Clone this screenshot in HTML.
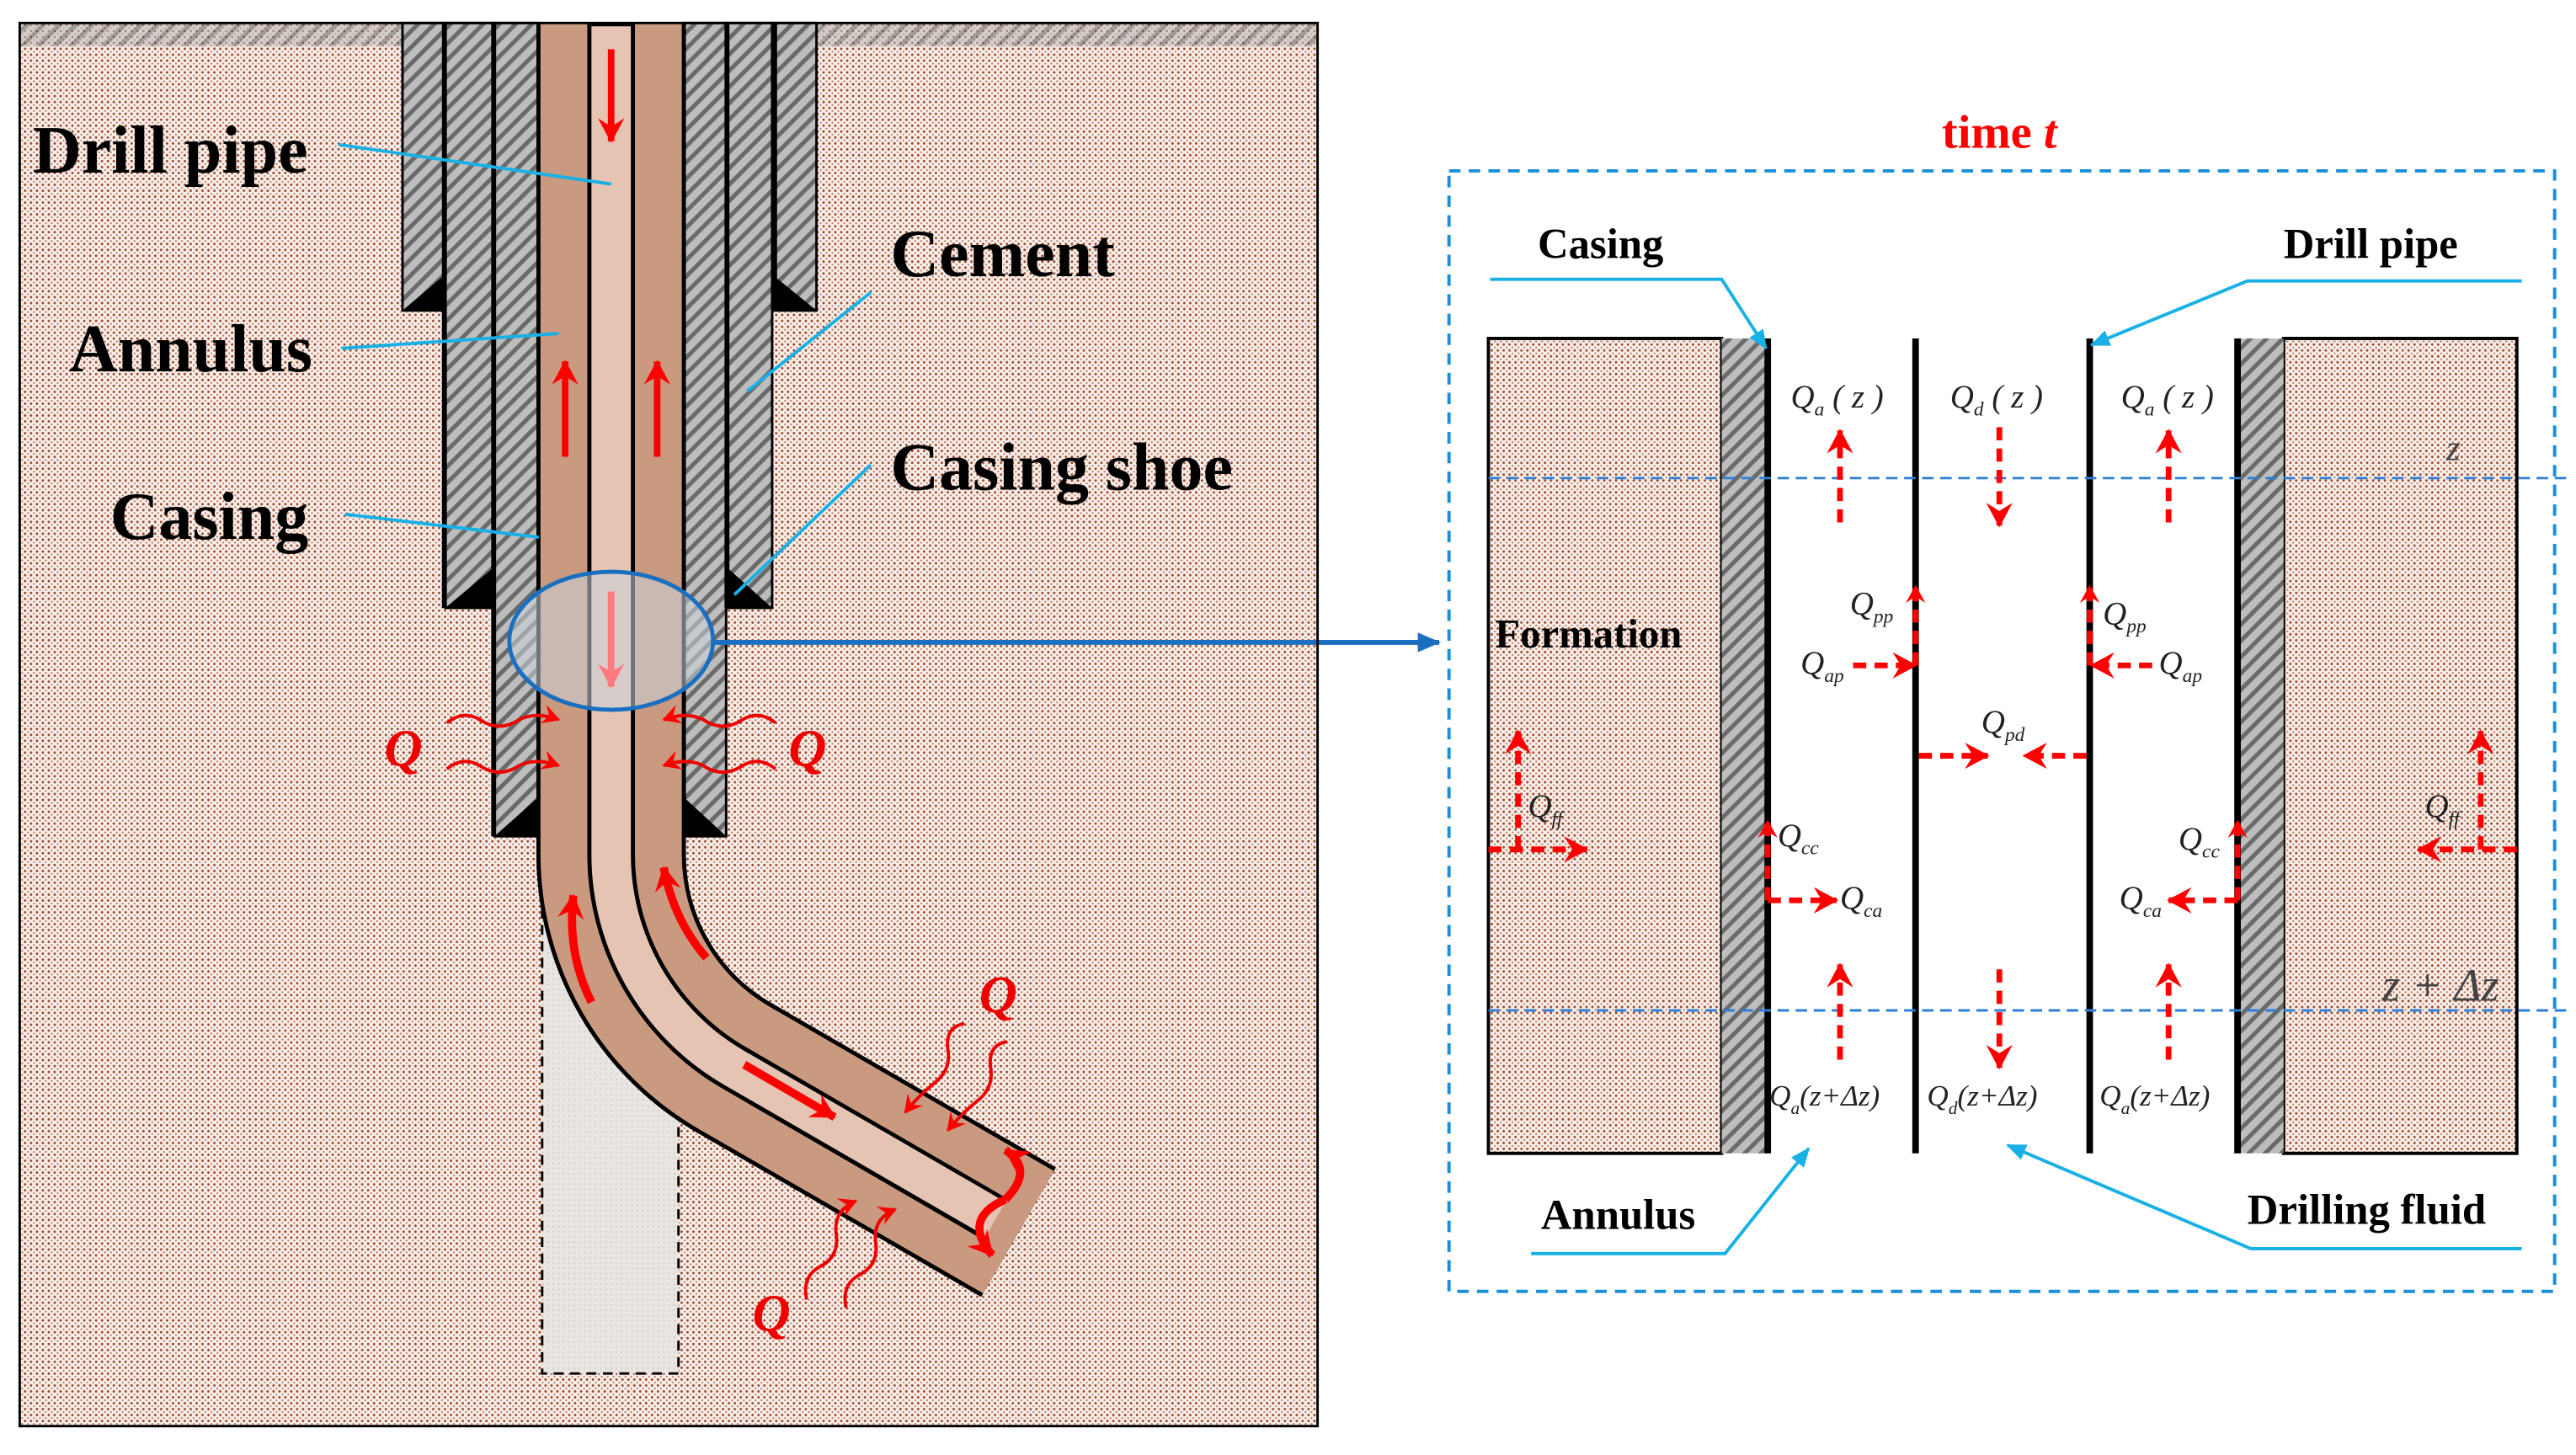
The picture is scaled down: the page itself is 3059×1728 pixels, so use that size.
<!DOCTYPE html>
<html><head><meta charset="utf-8"><style>
html,body{margin:0;padding:0;background:#fff;}
svg{display:block;}
.lbl{font-family:"Liberation Serif",serif;font-weight:bold;fill:#000;}
.q{font-family:"Liberation Serif",serif;font-style:italic;fill:#222;}
</style></head><body>
<svg width="3059" height="1728" viewBox="0 0 1568 885.6" preserveAspectRatio="none" xmlns="http://www.w3.org/2000/svg">
<defs>
<pattern id="dots" width="3.6" height="3.6" patternUnits="userSpaceOnUse">
<rect width="3.6" height="3.6" fill="#f9efea"/>
<circle cx="0.9" cy="0.9" r="0.75" fill="#9a4a2c"/>
<circle cx="2.7" cy="2.7" r="0.6" fill="#c08470"/>
</pattern>
<pattern id="dotsg" width="3.2" height="3.2" patternUnits="userSpaceOnUse">
<rect width="3.2" height="3.2" fill="#e8e5e3"/>
<circle cx="0.8" cy="0.8" r="0.5" fill="#d0c6c0"/>
</pattern>
<pattern id="hatch" width="7" height="7" patternUnits="userSpaceOnUse" patternTransform="rotate(45)">
<rect width="7" height="7" fill="#bdbdbd"/>
<rect width="2.6" height="7" fill="#6a6a6a"/>
</pattern>
<marker id="ar" markerWidth="12" markerHeight="12" refX="10" refY="6" orient="auto" markerUnits="userSpaceOnUse">
<path d="M0,0 L11,6 L0,12 L4,6 Z" fill="#f00"/></marker>
<marker id="ars" markerWidth="16" markerHeight="16" refX="14" refY="8" orient="auto" markerUnits="userSpaceOnUse">
<path d="M0,0 L15,8 L0,16 L5,8 Z" fill="#f00"/></marker>
<marker id="arb" markerWidth="14" markerHeight="12" refX="13" refY="6" orient="auto" markerUnits="userSpaceOnUse">
<path d="M0,0 L14,6 L0,12 Z" fill="#1a6fc0"/></marker>
<marker id="arc" markerWidth="12" markerHeight="10" refX="11" refY="5" orient="auto" markerUnits="userSpaceOnUse">
<path d="M0,0 L12,5 L0,10 Z" fill="#19b0e6"/></marker>
<marker id="arp" markerWidth="16" markerHeight="16" refX="14" refY="8" orient="auto" markerUnits="userSpaceOnUse">
<path d="M0,0 L15,8 L0,16 L5,8 Z" fill="#ff7a80"/></marker>
</defs>

<!-- LEFT PANEL -->
<rect x="12" y="14" width="790" height="854" fill="url(#dots)"/>
<rect x="12" y="14" width="233" height="14" fill="url(#hatch)" opacity="0.6"/>
<rect x="497" y="14" width="305" height="14" fill="url(#hatch)" opacity="0.6"/>
<rect x="330" y="509" width="83" height="327" fill="url(#dotsg)" stroke="#000" stroke-width="1.5" stroke-dasharray="6,4"/>

<g stroke="#000" stroke-width="1.5">
<rect x="245" y="14" width="26" height="175" fill="url(#hatch)"/>
<rect x="271" y="14" width="30" height="356" fill="url(#hatch)"/>
<rect x="301" y="14" width="27" height="495" fill="url(#hatch)"/>
<rect x="416" y="14" width="26" height="495" fill="url(#hatch)"/>
<rect x="442" y="14" width="28" height="356" fill="url(#hatch)"/>
<rect x="470" y="14" width="27" height="175" fill="url(#hatch)"/>
</g>
<g fill="#000">
<path d="M245,189 L271,189 L271,167 Z"/>
<path d="M271,370 L301,370 L301,345 Z"/>
<path d="M301,509 L328,509 L328,485 Z"/>
<path d="M416,509 L442,509 L416,485 Z"/>
<path d="M442,370 L470,370 L442,345 Z"/>
<path d="M470,189 L497,189 L470,167 Z"/>
</g>
<rect x="269" y="14" width="3" height="356" fill="#000"/>
<rect x="441" y="14" width="3" height="356" fill="#000"/>
<rect x="299" y="14" width="3" height="495" fill="#000"/>
<rect x="470" y="14" width="3" height="175" fill="#000"/>

<path d="M372,14 L372,520 A150,150 0 0 0 447,650 L620,750" fill="none" stroke="#000" stroke-width="91"/>
<path d="M372,14 L372,520 A150,150 0 0 0 447,650 L620,750" fill="none" stroke="#c99a80" stroke-width="86"/>
<path d="M372,14 L372,520 A150,150 0 0 0 447,650 L604,741" fill="none" stroke="#000" stroke-width="29"/>
<path d="M372,16 L372,520 A150,150 0 0 0 447,650 L606,742" fill="none" stroke="#e6c4b4" stroke-width="24"/>

<ellipse cx="372" cy="390" rx="62" ry="42" fill="#c8d3db" fill-opacity="0.55" stroke="#1a6fc0" stroke-width="2.5"/>
<line x1="435" y1="391" x2="876" y2="391" stroke="#1a6fc0" stroke-width="3" marker-end="url(#arb)"/>

<g stroke="#f00" stroke-width="4" fill="none">
<line x1="372" y1="30" x2="372" y2="86" marker-end="url(#ars)"/>
<line x1="344" y1="278" x2="344" y2="220" marker-end="url(#ars)"/>
<line x1="400" y1="278" x2="400" y2="220" marker-end="url(#ars)"/>
<path d="M360,610 Q345,580 349,545" stroke-width="5" marker-end="url(#ars)"/>
<path d="M430,583 Q410,560 404,528" stroke-width="5" marker-end="url(#ars)"/>
<line x1="453" y1="648" x2="508" y2="680" stroke-width="5" marker-end="url(#ars)"/>
<path d="M612,730 Q630,712 612,700" stroke-width="5" marker-end="url(#ars)"/>
<path d="M612,730 Q585,742 604,764" stroke-width="5" marker-end="url(#ars)"/>
</g>
<line x1="372" y1="360" x2="372" y2="418" stroke="#ff7a80" stroke-width="4" marker-end="url(#arp)"/>
<g stroke="#e00" stroke-width="2" fill="none">
<path d="M272,440 q10,-8 20,-2 q12,8 24,0 q10,-5 24,0" marker-end="url(#ar)"/>
<path d="M272,468 q10,-8 20,-2 q12,8 24,0 q10,-5 24,0" marker-end="url(#ar)"/>
<path d="M472,440 q-10,-8 -20,-2 q-12,8 -24,0 q-10,-5 -24,0" marker-end="url(#ar)"/>
<path d="M472,468 q-10,-8 -20,-2 q-12,8 -24,0 q-10,-5 -24,0" marker-end="url(#ar)"/>
<path d="M587,623 q-12,2 -10,16 q2,12 -8,20 q-10,8 -18,18" marker-end="url(#ar)"/>
<path d="M613,634 q-12,2 -10,16 q2,12 -8,20 q-10,8 -18,18" marker-end="url(#ar)"/>
<path d="M491,791 q-3,-14 8,-20 q12,-6 10,-20 q-2,-14 12,-20" marker-end="url(#ar)"/>
<path d="M515,796 q-3,-14 8,-20 q12,-6 10,-20 q-2,-14 12,-20" marker-end="url(#ar)"/>
</g>
<g font-family="Liberation Serif,serif" font-style="italic" font-weight="bold" font-size="32" fill="#e00">
<text x="234" y="466">Q</text><text x="480" y="466">Q</text>
<text x="596" y="616">Q</text><text x="458" y="810">Q</text>
</g>

<g class="lbl" font-size="41">
<text x="20" y="105">Drill pipe</text>
<text x="42" y="226">Annulus</text>
<text x="67" y="328">Casing</text>
<text x="542" y="168">Cement</text>
<text x="542" y="298">Casing shoe</text>
</g>
<g stroke="#19b0e6" stroke-width="2" fill="none">
<line x1="206" y1="88" x2="372" y2="112"/>
<line x1="208" y1="212" x2="340" y2="203"/>
<line x1="210" y1="313" x2="328" y2="327"/>
<line x1="530" y1="178" x2="455" y2="238"/>
<line x1="530" y1="283" x2="447" y2="362"/>
</g>
<rect x="12" y="14" width="790" height="854" fill="none" stroke="#000" stroke-width="1.5"/>

<!-- RIGHT PANEL -->
<text x="1217" y="90" text-anchor="middle" font-family="Liberation Serif,serif" font-weight="bold" font-size="29" fill="#f00">time <tspan font-style="italic">t</tspan></text>
<rect x="882" y="104" width="673" height="682" fill="none" stroke="#1a8fd8" stroke-width="2" stroke-dasharray="7,5"/>

<rect x="906" y="206" width="142" height="496" fill="url(#dots)" stroke="#000" stroke-width="2"/>
<rect x="1048" y="206" width="27" height="496" fill="url(#hatch)"/>
<rect x="1390" y="206" width="142" height="496" fill="url(#dots)" stroke="#000" stroke-width="2"/>
<rect x="1362" y="206" width="28" height="496" fill="url(#hatch)"/>
<g fill="#000">
<rect x="1074" y="206" width="4" height="496"/>
<rect x="1164" y="206" width="4" height="496"/>
<rect x="1270" y="206" width="4" height="496"/>
<rect x="1360" y="206" width="4" height="496"/>
</g>
<g stroke="#2e7fd8" stroke-width="1.5" stroke-dasharray="7,4">
<line x1="906" y1="291" x2="1562" y2="291"/>
<line x1="906" y1="615" x2="1562" y2="615"/>
</g>

<g stroke="#f00" stroke-width="3.5" stroke-dasharray="8,5" fill="none">
<line x1="1120" y1="318" x2="1120" y2="262" marker-end="url(#ars)"/>
<line x1="1320" y1="318" x2="1320" y2="262" marker-end="url(#ars)"/>
<line x1="1217" y1="260" x2="1217" y2="320" marker-end="url(#ars)"/>
<line x1="1120" y1="645" x2="1120" y2="587" marker-end="url(#ars)"/>
<line x1="1320" y1="645" x2="1320" y2="587" marker-end="url(#ars)"/>
<line x1="1217" y1="590" x2="1217" y2="650" marker-end="url(#ars)"/>
<line x1="1166" y1="405" x2="1166" y2="357" marker-end="url(#ar)"/>
<line x1="1128" y1="405" x2="1166" y2="405" marker-end="url(#ars)"/>
<line x1="1272" y1="405" x2="1272" y2="357" marker-end="url(#ar)"/>
<line x1="1310" y1="405" x2="1273" y2="405" marker-end="url(#ars)"/>
<line x1="1168" y1="460" x2="1210" y2="460" marker-end="url(#ars)"/>
<line x1="1270" y1="460" x2="1232" y2="460" marker-end="url(#ars)"/>
<line x1="1076" y1="548" x2="1076" y2="500" marker-end="url(#ar)"/>
<line x1="1076" y1="548" x2="1118" y2="548" marker-end="url(#ars)"/>
<line x1="1362" y1="548" x2="1362" y2="500" marker-end="url(#ar)"/>
<line x1="1362" y1="548" x2="1320" y2="548" marker-end="url(#ars)"/>
<line x1="924" y1="517" x2="924" y2="445" marker-end="url(#ars)"/>
<line x1="906" y1="517" x2="966" y2="517" marker-end="url(#ars)"/>
<line x1="1510" y1="517" x2="1510" y2="445" marker-end="url(#ars)"/>
<line x1="1532" y1="517" x2="1472" y2="517" marker-end="url(#ars)"/>
</g>

<g class="q" font-size="20">
<text x="1090" y="248">Q<tspan font-size="12" dy="5">a</tspan><tspan dy="-5"> ( z )</tspan></text>
<text x="1187" y="248">Q<tspan font-size="12" dy="5">d</tspan><tspan dy="-5"> ( z )</tspan></text>
<text x="1291" y="248">Q<tspan font-size="12" dy="5">a</tspan><tspan dy="-5"> ( z )</tspan></text>
<text x="1126" y="374">Q<tspan font-size="12" dy="5">pp</tspan></text>
<text x="1096" y="410">Q<tspan font-size="12" dy="5">ap</tspan></text>
<text x="1280" y="380">Q<tspan font-size="12" dy="5">pp</tspan></text>
<text x="1314" y="410">Q<tspan font-size="12" dy="5">ap</tspan></text>
<text x="1206" y="446">Q<tspan font-size="12" dy="5">pd</tspan></text>
<text x="1082" y="515">Q<tspan font-size="12" dy="5">cc</tspan></text>
<text x="1120" y="553">Q<tspan font-size="12" dy="5">ca</tspan></text>
<text x="1326" y="517">Q<tspan font-size="12" dy="5">cc</tspan></text>
<text x="1290" y="553">Q<tspan font-size="12" dy="5">ca</tspan></text>
<text x="930" y="497">Q<tspan font-size="12" dy="5">ff</tspan></text>
<text x="1476" y="497">Q<tspan font-size="12" dy="5">ff</tspan></text>
<text x="1077" y="673" font-size="18">Q<tspan font-size="11" dy="5">a</tspan><tspan dy="-5">(z+Δz)</tspan></text>
<text x="1173" y="673" font-size="18">Q<tspan font-size="11" dy="5">d</tspan><tspan dy="-5">(z+Δz)</tspan></text>
<text x="1278" y="673" font-size="18">Q<tspan font-size="11" dy="5">a</tspan><tspan dy="-5">(z+Δz)</tspan></text>
<text x="1489" y="280" font-size="22" fill="#444">z</text>
<text x="1450" y="609" font-size="28" fill="#444">z + Δz</text>
</g>
<text x="910" y="394" class="lbl" font-size="25">Formation</text>

<g class="lbl" font-size="26">
<text x="936" y="157">Casing</text>
<text x="1390" y="157">Drill pipe</text>
<text x="938" y="748">Annulus</text>
<text x="1368" y="745">Drilling fluid</text>
</g>
<g stroke="#19b0e6" stroke-width="2" fill="none">
<polyline points="907,170 1048,170 1075,212" marker-end="url(#arc)"/>
<polyline points="1535,171 1368,171 1273,210" marker-end="url(#arc)"/>
<polyline points="932,763 1050,763 1101,699" marker-end="url(#arc)"/>
<polyline points="1535,760 1370,760 1222,697" marker-end="url(#arc)"/>
</g>
</svg>
</body></html>
